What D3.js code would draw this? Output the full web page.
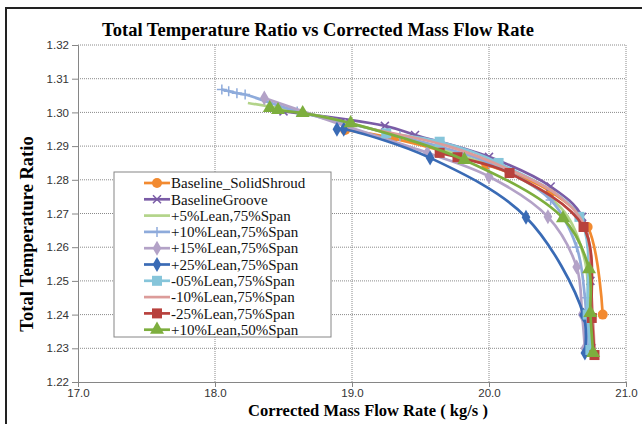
<!DOCTYPE html>
<html>
  <head>
    <meta charset="utf-8"/>
    <style>
body {
  margin: 0;
  background: #fff;
}
svg {
  display: block;
  font-family: "Liberation Sans", Arial, sans-serif;
}
.ttl {
  font-family: "Liberation Serif", "Times New Roman", serif;
  font-weight: bold;
}
.leg {
  font-family: "Liberation Serif", "Times New Roman", serif;
  font-size: 15px;
}
    </style>
  </head>
  <body>
    <svg id="chart" width="642" height="424"></svg>
    <script src="https://cdnjs.cloudflare.com/ajax/libs/d3/7.8.5/d3.min.js"></script>
    <script>
// values: [mass flow kg/s, temperature ratio]
const solidShroud = [[18.95,1.2948],[19.30,1.2923],[19.98,1.2845],[20.45,1.2765],[20.72,1.2660],[20.83,1.2400]];
const groove = [[18.50,1.3003],[19.24,1.2960],[19.46,1.2933],[20.00,1.2868],[20.45,1.2780],[20.68,1.2690],[20.74,1.2500],[20.75,1.2300]];
const lean5 = [[18.24,1.3028],[18.70,1.2995],[19.20,1.2945],[19.70,1.2885],[20.20,1.2810],[20.55,1.2705],[20.70,1.2560],[20.73,1.2400],[20.74,1.2300]];
const lean10 = [[18.05,1.3068],[18.10,1.3063],[18.16,1.3057],[18.22,1.3053],[18.60,1.3003],[19.35,1.2930],[20.00,1.2850],[20.45,1.2740],[20.64,1.2600],[20.70,1.2450],[20.72,1.2300]];
const lean15 = [[18.36,1.3043],[18.95,1.2960],[19.55,1.2880],[20.00,1.2810],[20.43,1.2690],[20.64,1.2541],[20.68,1.2400],[20.70,1.2300]];
const lean25 = [[18.89,1.2950],[18.94,1.2950],[19.57,1.2865],[20.27,1.2689],[20.69,1.2399],[20.70,1.2286]];
const leanM05 = [[19.25,1.2938],[19.64,1.2913],[20.07,1.2850],[20.66,1.2690],[20.72,1.2400],[20.74,1.2295]];
const leanM10 = [[19.15,1.2950],[19.70,1.2900],[20.15,1.2830],[20.50,1.2755],[20.70,1.2660],[20.75,1.2450],[20.77,1.2290]];
const leanM25 = [[19.64,1.2880],[19.77,1.2867],[20.15,1.2820],[20.69,1.2660],[20.75,1.2390],[20.77,1.2280]];
const lean10s50 = [[18.40,1.3013],[18.46,1.3007],[18.64,1.2998],[18.99,1.2968],[19.82,1.2859],[20.54,1.2686],[20.73,1.2535],[20.74,1.2405],[20.76,1.2286]];

const names = ["Baseline_SolidShroud","BaselineGroove","+5%Lean,75%Span","+10%Lean,75%Span","+15%Lean,75%Span",
  "+25%Lean,75%Span","-05%Lean,75%Span","-10%Lean,75%Span","-25%Lean,75%Span","+10%Lean,50%Span"];
const colors = ["#f28a30","#7a5ca6","#b3d48a","#8eabdb","#b3a2c7","#3a6bb5","#86c5da","#dc9c9a","#b8413d","#7dae3e"];
const markers = ["circle","x","none","plus","diamond","diamond","square","none","square","triangle"];
const seriesData = [solidShroud, groove, lean5, lean10, lean15, lean25, leanM05, leanM10, leanM25, lean10s50];

const xTicks = [17, 18, 19, 20, 21];
const yTicks = [1.22, 1.23, 1.24, 1.25, 1.26, 1.27, 1.28, 1.29, 1.30, 1.31, 1.32];

const svg = d3.select("#chart");
const plotL = 78, plotR = 626, plotT = 45, plotB = 382;

const x = d3.scaleLinear().domain([17, 21]).range([plotL, plotR]);
const y = d3.scaleLinear().domain([1.22, 1.32]).range([plotB, plotT]);

// outer chart frame
svg.append("rect")
  .attr("x", 6).attr("y", 8)
  .attr("width", 660).attr("height", 440)
  .attr("fill", "#fff")
  .attr("stroke", "#222")
  .attr("stroke-width", 2);

// dotted grid
const grid = svg.append("g")
  .attr("stroke", "#8a8a8a")
  .attr("stroke-dasharray", "1,1");
grid.selectAll("line.h")
  .data(yTicks.slice(1))
  .join("line")
    .attr("class", "h")
    .attr("x1", plotL).attr("x2", plotR)
    .attr("y1", d => y(d)).attr("y2", d => y(d));
grid.selectAll("line.v")
  .data(xTicks.slice(1))
  .join("line")
    .attr("class", "v")
    .attr("y1", plotT).attr("y2", plotB)
    .attr("x1", d => x(d)).attr("x2", d => x(d));

const xAxis = svg.append("g")
  .attr("transform", `translate(0,${plotB})`)
  .call(d3.axisBottom(x).tickValues(xTicks).tickFormat(d3.format(".1f")).tickSize(5).tickPadding(2));
const yAxis = svg.append("g")
  .attr("transform", `translate(${plotL},0)`)
  .call(d3.axisLeft(y).tickValues(yTicks).tickFormat(d3.format(".2f")).tickSize(6).tickPadding(3));
[xAxis, yAxis].forEach(a => {
  a.selectAll("path, line").attr("stroke", "#868686");
  a.selectAll("text")
    .attr("fill", "#333")
    .style("font-size", "11.5px")
    .style("font-family", "'Liberation Sans', Arial, sans-serif");
});

// series
const line = d3.line()
  .x(d => x(d[0]))
  .y(d => y(d[1]))
  .curve(d3.curveCatmullRom.alpha(0.5));

function marker(g, kind, color) {
  if (kind === "circle") {
    g.append("circle").attr("r", 5).attr("fill", color);
  } else if (kind === "x") {
    g.append("path").attr("d", "M-4,-4L4,4M-4,4L4,-4").attr("stroke", color).attr("stroke-width", 1.5);
  } else if (kind === "plus") {
    g.append("path").attr("d", "M-5,0L5,0M0,-5L0,5").attr("stroke", color).attr("stroke-width", 1.5);
  } else if (kind === "diamond") {
    g.append("path").attr("d", d3.symbol(d3.symbolDiamond, 65)()).attr("fill", color);
  } else if (kind === "square") {
    g.append("rect").attr("x", -5).attr("y", -5).attr("width", 10).attr("height", 10).attr("fill", color);
  } else if (kind === "triangle") {
    g.append("path").attr("d", d3.symbol(d3.symbolTriangle, 85)()).attr("fill", color);
  }
}

seriesData.forEach((pts, i) => {
  const g = svg.append("g");
  g.append("path")
    .attr("d", line(pts))
    .attr("fill", "none")
    .attr("stroke", colors[i])
    .attr("stroke-width", 2.7);
  if (markers[i] !== "none") {
    g.selectAll("g")
      .data(pts)
      .join("g")
        .attr("transform", d => `translate(${x(d[0])},${y(d[1])})`)
        .each(function() { marker(d3.select(this), markers[i], colors[i]); });
  }
});

// legend
const leg = svg.append("g").attr("transform", "translate(114,172)");
leg.append("rect")
  .attr("width", 217).attr("height", 165)
  .attr("fill", "#fff")
  .attr("stroke", "#868686");
names.forEach((n, i) => {
  const row = leg.append("g").attr("transform", `translate(0,${11 + i * 16.3})`);
  row.append("line")
    .attr("x1", 30).attr("x2", 56)
    .attr("stroke", colors[i])
    .attr("stroke-width", 2.7);
  if (markers[i] !== "none") {
    marker(row.append("g").attr("transform", "translate(43,0)"), markers[i], colors[i]);
  }
  row.append("text")
    .attr("class", "leg")
    .attr("x", 57)
    .attr("dy", "0.35em")
    .attr("fill", "#111")
    .text(n);
});

// titles
svg.append("text")
  .attr("class", "ttl")
  .attr("x", 318).attr("y", 36)
  .attr("text-anchor", "middle")
  .style("font-size", "18.5px")
  .text("Total Temperature Ratio vs Corrected Mass Flow Rate");
svg.append("text")
  .attr("class", "ttl")
  .attr("x", 368).attr("y", 416)
  .attr("text-anchor", "middle")
  .style("font-size", "16.5px")
  .text("Corrected Mass Flow Rate ( kg/s )");
svg.append("text")
  .attr("class", "ttl")
  .attr("transform", "translate(33,234) rotate(-90)")
  .attr("text-anchor", "middle")
  .style("font-size", "18.5px")
  .text("Total Temperature Ratio");
    </script>
  </body>
</html>
